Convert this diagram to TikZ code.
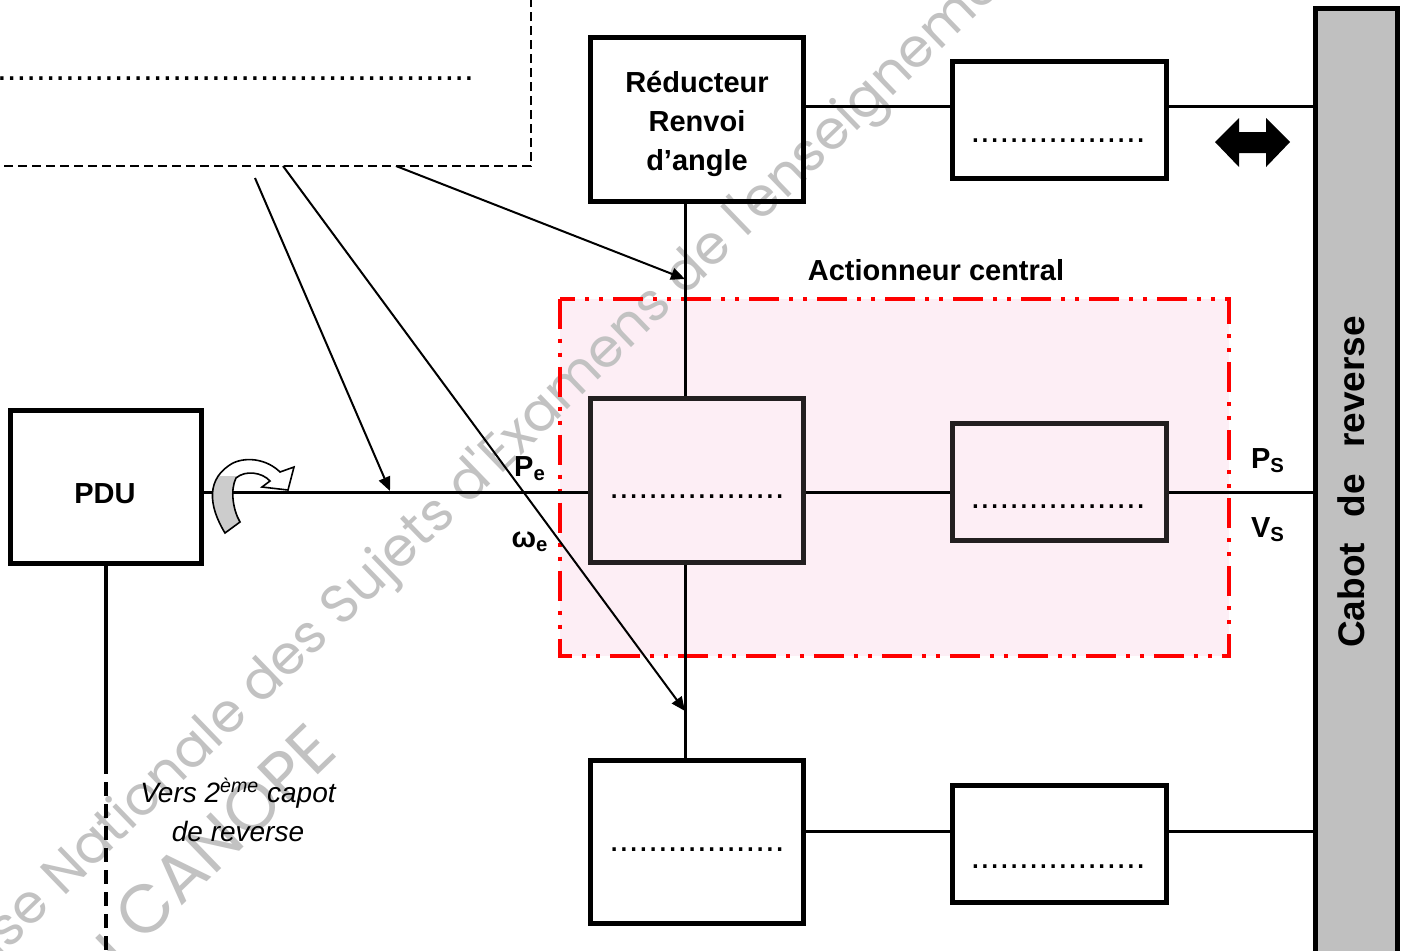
\documentclass[tikz,border=0pt]{standalone}
\usepackage{fontspec}
\setmainfont{Liberation Sans}
\newfontfamily\wmfont{Poppins}
\usetikzlibrary{arrows.meta,calc}
\definecolor{pinkbg}{HTML}{FDEEF5}
\definecolor{boxdark}{HTML}{231F20}
\definecolor{cabotgray}{HTML}{C0C0C0}
\definecolor{wmgray}{HTML}{C2C2C2}
\begin{document}
\begin{tikzpicture}[x=0.5pt,y=-0.5pt,
  box/.style={draw=black,line width=2.5pt,inner sep=0pt},
  dkbox/.style={draw=boxdark,line width=2.5pt,inner sep=0pt},
  conn/.style={line width=1.5pt},
  arr/.style={line width=1pt,-{Triangle[length=7pt,width=6pt]}},
  lbl/.style={font=\bfseries\fontsize{14.5}{19.5}\selectfont,inner sep=0pt,align=center},
  dotstxt/.style={font=\fontsize{17.5}{18}\selectfont,inner sep=0pt,anchor=base},
  wm/.style={font=\wmfont\fontsize{27}{30}\selectfont,text=wmgray,inner sep=0pt},
]
\useasboundingbox (0,0) rectangle (1406,950);
\clip (0,0) rectangle (1406,950);
\fill[white] (0,0) rectangle (1406,950);

% actionneur background
\node[fill=pinkbg,minimum width=334.5pt,minimum height=178.5pt,inner sep=0pt] (actbg) at (894.5,477.5) {};

% watermark
\node[wm,rotate=44] (wm1) at (626,334) {Base Nationale des Sujets d'Examens de l'enseignement professionnel};
\node[wm,font=\wmfont\fontsize{34}{36}\selectfont,rotate=44,anchor=east] (wm2) at (322,735) {Réseau CANOPE};

% actionneur frame
\draw[red,line width=2pt,dash pattern=on 15pt off 5pt on 2pt off 5pt on 2pt off 5pt] (actbg.north west) rectangle (actbg.south east);
\node[lbl,anchor=base] (actlbl) at (936,280) {Actionneur central};

% top-left dashed box
\coordinate (db1) at (-10,166);
\coordinate (db2) at (531,166);
\coordinate (db3) at (531,-10);
\draw[line width=1pt,dash pattern=on 4.5pt off 2.5pt] (db1) -- (db2) -- (db3);
\node[dotstxt,anchor=base east] (tldots) at (474,80) {.................................................};

% boxes
\node[box,minimum width=106.5pt,minimum height=82pt] (red) at (697,119.5) {};
\node[lbl] (redtxt) at (697,124) {Réducteur\\Renvoi\\d’angle};
\node[box,minimum width=107pt,minimum height=58.5pt] (topright) at (1059.5,120) {};
\node[dkbox,minimum width=106.5pt,minimum height=82pt] (central) at (697,480.5) {};
\node[dkbox,minimum width=107pt,minimum height=58.5pt] (midright) at (1059.5,482) {};
\node[box,minimum width=106.5pt,minimum height=81.5pt] (botleft) at (697,842) {};
\node[box,minimum width=107pt,minimum height=58.5pt] (botright) at (1059.5,844) {};
\node[box,minimum width=95.5pt,minimum height=76.5pt] (PDU) at (106,487) {};
\node[lbl] (pdutxt) at (105,494) {PDU};
\node[box,fill=cabotgray,minimum width=41pt,minimum height=476pt] (cabot) at (1356,484) {};
\node[rotate=90,font=\bfseries\fontsize{18.5}{20}\selectfont,inner sep=0pt] (cabtxt) at (1351,482) {Cabot\hspace{13pt}de\hspace{13pt}reverse};

% dotted texts
\node[dotstxt] (d1) at (1058,142) {..................};
\node[dotstxt] (d2) at (697,498) {..................};
\node[dotstxt] (d3) at (1058,508) {..................};
\node[dotstxt] (d4) at (697,851) {..................};
\node[dotstxt] (d5) at (1058,868) {..................};

% connectors
\coordinate (sx) at (685,0);
\coordinate (sy) at (0,492);
\coordinate (ty) at (0,106);
\coordinate (by) at (0,831);
\draw[conn] (red.south -| sx) -- (central.north -| sx);
\draw[conn] (central.south -| sx) -- (botleft.north -| sx);
\draw[conn] (PDU.east |- sy) -- (central.west |- sy);
\draw[conn] (central.east |- sy) -- (midright.west |- sy);
\draw[conn] (midright.east |- sy) -- (cabot.west |- sy);
\draw[conn] (red.east |- ty) -- (topright.west |- ty);
\draw[conn] (topright.east |- ty) -- (cabot.west |- ty);
\draw[conn] (botleft.east |- by) -- (botright.west |- by);
\draw[conn] (botright.east |- by) -- (cabot.west |- by);

% PDU down line
\coordinate (pdumid) at (106,760);
\coordinate (pduend) at (106,960);
\draw[line width=2pt] (PDU.south) -- (pdumid);
\draw[line width=2pt,dash pattern=on 7pt off 4pt] (pdumid) -- (pduend);
\node[font=\itshape\fontsize{14}{19.5}\selectfont,align=center,inner sep=0pt] (vers) at (238,810) {Vers 2\textsuperscript{ème} capot\\de reverse};

% arrows
\coordinate (a1s) at (255,178);
\coordinate (a1e) at (390,491);
\coordinate (a2s) at (283,166);
\coordinate (a2e) at (685,711);
\coordinate (a3s) at (396,166);
\coordinate (a3e) at (685,279);
\draw[arr] (a1s) -- (a1e);
\draw[arr] (a2s) -- (a2e);
\draw[arr] (a3s) -- (a3e);

% labels
\node[lbl,anchor=base] (pe) at (530,476) {P\textsubscript{e}};
\node[lbl,anchor=base] (we) at (530,547) {ω\textsubscript{e}};
\node[lbl,anchor=base] (ps) at (1268,468) {P\textsubscript{S}};
\node[lbl,anchor=base] (vs) at (1268,537) {V\textsubscript{S}};

% double arrow
\fill[black] (1215,142) -- (1239,118) -- (1239,132) -- (1266,132) -- (1266,118) -- (1290,142)
  -- (1266,167) -- (1266,153) -- (1239,153) -- (1239,167) -- cycle;

% curved rotation arrow near PDU
\def\curvarrow{(225,533) .. controls (208,505) and (206,478) .. (233,463) .. controls (248,456) and (268,460) .. (280,472) -- (294,467) -- (288,490) -- (262,487) -- (270,481) .. controls (262,472) and (245,470) .. (236,478) .. controls (230,490) and (233,510) .. (240,522) -- cycle}
\fill[white] \curvarrow;
\begin{scope}
\clip (190,476) rectangle (252,545);
\fill[gray!40] \curvarrow;
\end{scope}
\draw[line width=0.8pt] \curvarrow;
\end{tikzpicture}
\end{document}
